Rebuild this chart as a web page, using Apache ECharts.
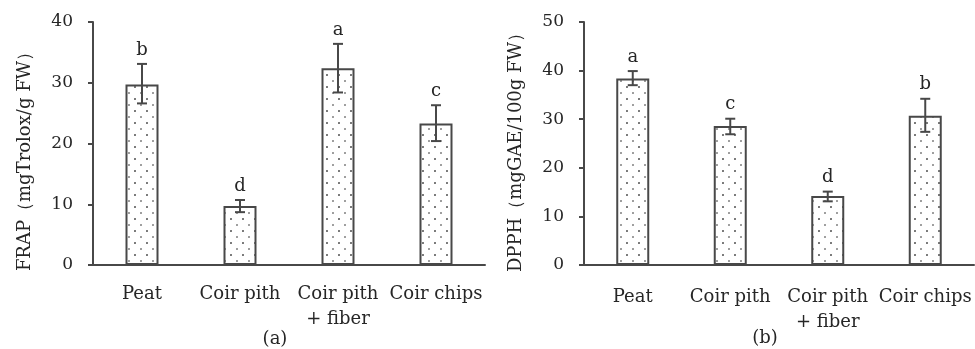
<!DOCTYPE html>
<html><head><meta charset="utf-8">
<script src="https://cdn.jsdelivr.net/npm/echarts@6/dist/echarts.min.js"></script>
<style>html,body{margin:0;padding:0;background:#fff}#c{width:975px;height:349px}</style>
</head><body><div id="c"></div>
<script>
const categories = ['Peat', 'Coir pith', 'Coir pith\n+ fiber', 'Coir chips'];
const frapValues = [29.7, 9.7, 32.4, 23.3];
const frapErrLow = [26.6, 8.7, 28.4, 20.4];
const frapErrHigh = [33.1, 10.7, 36.4, 26.3];
const frapLetters = ['b', 'd', 'a', 'c'];
const dpphValues = [38.4, 28.6, 14.2, 30.7];
const dpphErrLow = [37.0, 26.9, 13.1, 27.4];
const dpphErrHigh = [39.9, 30.1, 15.1, 34.2];
const dpphLetters = ['a', 'c', 'd', 'b'];
const frapAxis = { min: 0, max: 40, interval: 10 };
const dpphAxis = { min: 0, max: 50, interval: 10 };
const frapName = 'FRAP（mgTrolox/g FW）';
const dpphName = 'DPPH（mgGAE/100g FW）';
const panelLabels = ['(a)', '(b)'];

const FONT = 'DejaVu Serif';
const INK = '#484848';
const TXT = '#262626';

function makePattern() {
  const c = document.createElement('canvas');
  c.width = 12; c.height = 12;
  const g = c.getContext('2d');
  g.fillStyle = '#fff'; g.fillRect(0, 0, 12, 12);
  g.fillStyle = '#444';
  g.beginPath(); g.arc(3, 3, 0.95, 0, Math.PI * 2); g.fill();
  g.fillStyle = '#777';
  g.beginPath(); g.arc(9, 9, 0.95, 0, Math.PI * 2); g.fill();
  return c;
}
const pattern = { image: makePattern(), repeat: 'repeat' };

function xAxisCfg(gi, margin) {
  return {
    type: 'category', gridIndex: gi, data: categories,
    axisLine: { lineStyle: { color: INK, width: 2 } },
    axisTick: { show: false },
    axisLabel: { interval: 0, fontFamily: FONT, fontSize: 18, color: TXT, margin: margin, lineHeight: 25 }
  };
}
function yAxisCfg(gi, ax) {
  return {
    type: 'value', gridIndex: gi, min: ax.min, max: ax.max, interval: ax.interval,
    axisLine: { show: true, lineStyle: { color: INK, width: 2 } },
    axisTick: { show: true, length: 5, lineStyle: { color: INK, width: 2 } },
    splitLine: { show: false },
    axisLabel: { fontFamily: FONT, fontSize: 17, color: TXT, margin: 20 }
  };
}
function barSeries(gi, vals) {
  return {
    type: 'bar', xAxisIndex: gi, yAxisIndex: gi, data: vals, barWidth: 33,
    itemStyle: { color: pattern, borderColor: INK, borderWidth: 2 },
    silent: true
  };
}
function errSeries(gi, low, high, letters) {
  return {
    type: 'custom', xAxisIndex: gi, yAxisIndex: gi, z: 5, silent: true,
    data: low.map((l, i) => [i, l, high[i]]),
    encode: { x: 0, y: [1, 2] },
    renderItem(params, api) {
      const x = api.value(0);
      const lo = api.coord([x, api.value(1)]);
      const hi = api.coord([x, api.value(2)]);
      const w = 5;
      const style = { stroke: INK, lineWidth: 2 };
      return {
        type: 'group', children: [
          { type: 'line', shape: { x1: lo[0], y1: lo[1], x2: hi[0], y2: hi[1] }, style },
          { type: 'line', shape: { x1: lo[0] - w, y1: lo[1], x2: lo[0] + w, y2: lo[1] }, style },
          { type: 'line', shape: { x1: hi[0] - w, y1: hi[1], x2: hi[0] + w, y2: hi[1] }, style },
          { type: 'text', x: hi[0], y: hi[1] - 5,
            style: { text: letters[params.dataIndex], fill: TXT, font: '18px "' + FONT + '"', align: 'center', verticalAlign: 'bottom' } }
        ]
      };
    }
  };
}

const chart = echarts.init(document.getElementById('c'), null, { renderer: 'canvas' });
chart.setOption({
  animation: false,
  backgroundColor: '#fff',
  grid: [
    { left: 93, right: 490, top: 22, bottom: 84 },
    { left: 584, right: 1, top: 22, bottom: 84 }
  ],
  xAxis: [xAxisCfg(0, 17), xAxisCfg(1, 20)],
  yAxis: [yAxisCfg(0, frapAxis), yAxisCfg(1, dpphAxis)],
  series: [
    barSeries(0, frapValues),
    errSeries(0, frapErrLow, frapErrHigh, frapLetters),
    barSeries(1, dpphValues),
    errSeries(1, dpphErrLow, dpphErrHigh, dpphLetters)
  ],
  graphic: [
    { type: 'text', x: 25, y: 157, rotation: Math.PI / 2,
      style: { text: frapName, font: '18px "' + FONT + '"', fill: TXT, align: 'center', verticalAlign: 'middle' } },
    { type: 'text', x: 516, y: 148, rotation: Math.PI / 2,
      style: { text: dpphName, font: '18px "' + FONT + '"', fill: TXT, align: 'center', verticalAlign: 'middle' } },
    { type: 'text', x: 275, y: 339,
      style: { text: panelLabels[0], font: '18px "' + FONT + '"', fill: TXT, align: 'center', verticalAlign: 'middle' } },
    { type: 'text', x: 765, y: 338,
      style: { text: panelLabels[1], font: '18px "' + FONT + '"', fill: TXT, align: 'center', verticalAlign: 'middle' } }
  ]
});
</script>
</body></html>
